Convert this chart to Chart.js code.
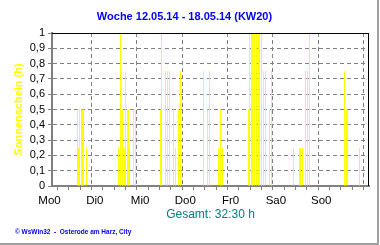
<!DOCTYPE html>
<html><head><meta charset="utf-8">
<script src="https://cdn.jsdelivr.net/npm/chart.js@4/dist/chart.umd.min.js"></script>
<style>html,body{margin:0;padding:0;background:#fff;}#wrap{width:380px;height:245px;position:relative;}</style>
</head><body><div id="wrap"><canvas id="c" width="380" height="245"></canvas></div>
<script>
const titleText = 'Woche 12.05.14 - 18.05.14 (KW20)';
const yTitle = 'Sonnenschein (h)';
const totalText = 'Gesamt: 32:30 h';
const footerText = '\u00A9 WsWin32  -  Osterode am Harz, City';
const dayLabels = ['Mo0','Di0','Mi0','Do0','Fr0','Sa0','So0'];
// hours since Monday 00:00
const sunHours = [
  13.41,13.94,14.68,15.37,16.06,16.80,18.02,
  35.14,36.20,37.20,38.16,39.11,39.91,40.54,41.07,43.09,43.99,
  57.50,58.03,60.05,61.11,62.17,64.29,65.34,67.04,67.94,
  80.13,82.41,83.36,88.08,89.14,90.20,
  104.03,104.93,105.62,106.37,107.43,108.27,109.33,110.08,110.92,111.98,113.04,115.16,116.22,
  127.83,131.06,131.96,132.86,134.24,135.25,136.31,
  154.86,155.92,156.76,162.81
];
// sunshine (h)
const sunValues = [
  0.5,0.25,0.5,0.5,0.5,0.5,0.25,
  0.25,1,0.5,0.25,0.75,0.5,0.5,0.25,0.5,0.5,
  0.5,1,0.75,0.75,0.75,0.5,0.25,0.5,0.75,
  0.75,0.5,0.75,0.25,0.5,0.25,
  0.5,1,1,1,1,1,1,1,1,0.75,0.75,0.5,0.75,
  0.25,0.25,0.25,0.25,0.75,0.75,1,
  0.75,0.5,0.5,0.25
];

const FONT = '"Liberation Sans", Arial, sans-serif';

const snapPlugin = {
  id: 'snap',
  afterDatasetsUpdate(chart) {
    chart.getDatasetMeta(0).data.forEach(b => { b.x = Math.round(b.x - 0.5) + 0.5; });
  }
};

const framePlugin = {
  id: 'frame',
  afterDraw(chart) {
    const ctx = chart.ctx, a = chart.chartArea;
    ctx.save();
    ctx.fillStyle = '#000';
    ctx.fillRect(a.left, a.top, a.right - a.left, 1);
    ctx.fillRect(a.right - 1, a.top, 1, a.bottom - a.top);
    ctx.fillStyle = '#a0a0a0';
    ctx.fillRect(377, 0, 2, 245);
    ctx.fillRect(0, 243, 379, 2);
    ctx.fillStyle = '#0000FF';
    ctx.font = 'bold 6.5px ' + FONT;
    ctx.textBaseline = 'middle';
    ctx.textAlign = 'left';
    ctx.fillText(footerText, 15, 232);
    ctx.restore();
  }
};

new Chart(document.getElementById('c'), {
  type: 'bar',
  data: {
    datasets: [{
      data: sunHours.map((h, i) => ({x: h, y: sunValues[i]})),
      backgroundColor: '#FFFF00',
      borderWidth: 0,
      barThickness: 1,
      inflateAmount: 0
    }]
  },
  options: {
    responsive: false,
    animation: false,
    devicePixelRatio: 1,
    layout: {padding: {left: 0, right: 11, top: 0, bottom: 0}},
    plugins: {
      legend: {display: false},
      tooltip: {enabled: false},
      title: {
        display: true, text: titleText, color: '#0000FF',
        font: {family: FONT, size: 11, weight: 'bold'},
        padding: {top: 10, bottom: 9.8}
      }
    },
    scales: {
      x: {
        type: 'linear', min: 0, max: 168, offset: false,
        afterFit: s => { s.height = 59; },
        ticks: {
          stepSize: 6, autoSkip: false, maxRotation: 0, minRotation: 0,
          callback: v => (v % 24 === 0 && v < 168) ? dayLabels[v / 24] : '',
          color: '#000', font: {family: FONT, size: 11.5}, padding: 4, labelOffset: -2.5
        },
        grid: {
          color: c => (c.tick && c.tick.value % 24 === 0) ? '#808080' : 'rgba(0,0,0,0)',
          tickColor: '#808080', tickLength: 4, lineWidth: 1
        },
        border: {display: true, color: '#808080', width: 2, dash: [4, 3]},
        title: {
          display: true, text: totalText, color: '#008080',
          font: {family: FONT, size: 12}, padding: {top: 0, bottom: 22.8}
        }
      },
      y: {
        min: 0, max: 1,
        afterFit: s => { s.width = 52; },
        ticks: {
          stepSize: 0.1, autoSkip: false,
          callback: v => String(Math.round(v * 10) / 10).replace('.', ','),
          color: '#000', font: {family: FONT, size: 11}, padding: 3
        },
        grid: {color: '#808080', tickColor: '#808080', tickLength: 4, lineWidth: 1},
        border: {display: true, color: '#808080', width: 2, dash: [4, 3]},
        title: {
          display: true, text: yTitle, color: '#FFFF00',
          font: {family: FONT, size: 11, weight: 'bold'}, padding: {top: 12, bottom: 0}
        }
      }
    }
  },
  plugins: [snapPlugin, framePlugin]
});
</script></body></html>
